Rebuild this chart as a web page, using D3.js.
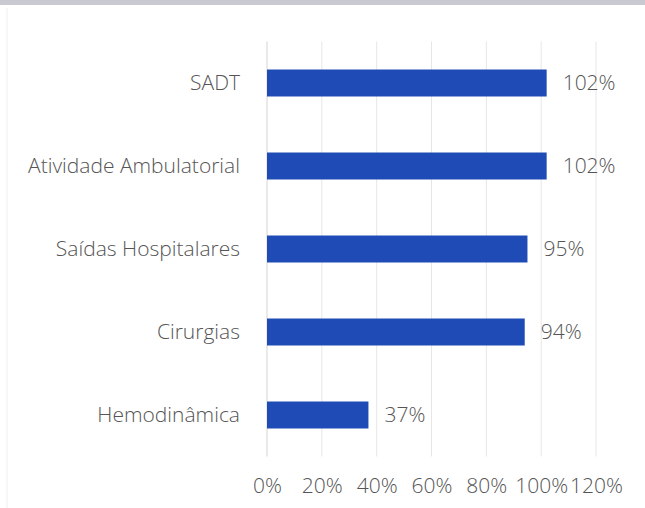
<!DOCTYPE html>
<html>
<head>
<meta charset="utf-8">
<script src="https://cdn.jsdelivr.net/npm/d3@7"></script>
<style>
  body { margin: 0; background: #fff; }
  text { font-family: "Open Sans", sans-serif; font-weight: 300; }
</style>
</head>
<body>
<div id="chart"></div>
<script>
// Données du graphique
let categories = ["SADT", "Atividade Ambulatorial", "Saídas Hospitalares", "Cirurgias", "Hemodinâmica"];
let valeurs = [102, 102, 95, 94, 37];
let ticks = [0, 20, 40, 60, 80, 100, 120];

let W = 645, H = 508;
let margins = { left: 267, right: 49, top: 41.5, bottom: 51.5 };
let width = W - margins.left - margins.right;
let height = H - margins.top - margins.bottom;
let fontSize = "21px";
let textColor = "#555555";

let svg = d3.select("#chart")
            .append("svg")
            .attr("width", W)
            .attr("height", H);

// bande grise du scan en haut
svg.append("rect")
   .attr("x", 0).attr("y", 0)
   .attr("width", W).attr("height", 5)
   .style("fill", "#c9c9d1");
svg.append("line")
   .attr("x1", 7).attr("x2", 7)
   .attr("y1", 8).attr("y2", H)
   .style("stroke", "#efefef");

let g = svg.append("g")
           .attr("transform", `translate(${margins.left},${margins.top})`);

let xScale = d3.scaleLinear()
               .domain([0, 120])
               .range([0, width]);

let yScale = d3.scaleBand()
               .domain(categories)
               .range([0, height])
               .paddingInner(0.675)
               .paddingOuter(0.3375);

// Grille verticale
g.append("g")
 .selectAll("line")
 .data(ticks)
 .enter()
 .append("line")
 .attr("x1", d => xScale(d))
 .attr("x2", d => xScale(d))
 .attr("y1", 0)
 .attr("y2", height)
 .style("stroke", d => d === 0 ? "#d4d4d4" : "#e6e6e6")
 .style("stroke-width", 1);

// Axe x (étiquettes seulement)
let xAxis = g.append("g")
             .attr("transform", `translate(0, ${height})`)
             .call(d3.axisBottom(xScale).tickValues(ticks).tickFormat(d => d + "%").tickSize(0).tickPadding(22));
xAxis.select(".domain").remove();
xAxis.selectAll("text")
     .style("font-size", fontSize)
     .style("fill", textColor);

// Axe y
let yAxis = g.append("g")
             .call(d3.axisLeft(yScale).tickSize(0).tickPadding(27));
yAxis.select(".domain").remove();
yAxis.selectAll("text")
     .style("font-size", fontSize)
     .style("fill", textColor);

// Barres
g.append("g")
 .selectAll("rect")
 .data(categories)
 .enter()
 .append("rect")
 .attr("x", 0)
 .attr("y", d => yScale(d))
 .attr("width", (d, i) => xScale(valeurs[i]))
 .attr("height", yScale.bandwidth())
 .style("fill", "#1e4bb6");

// Étiquettes de valeurs
g.append("g")
 .selectAll("text")
 .data(categories)
 .enter()
 .append("text")
 .attr("x", (d, i) => xScale(valeurs[i]) + 16)
 .attr("y", d => yScale(d) + yScale.bandwidth() / 2)
 .attr("dy", "0.35em")
 .style("font-size", fontSize)
 .style("fill", textColor)
 .text((d, i) => valeurs[i] + "%");
</script>
</body>
</html>
